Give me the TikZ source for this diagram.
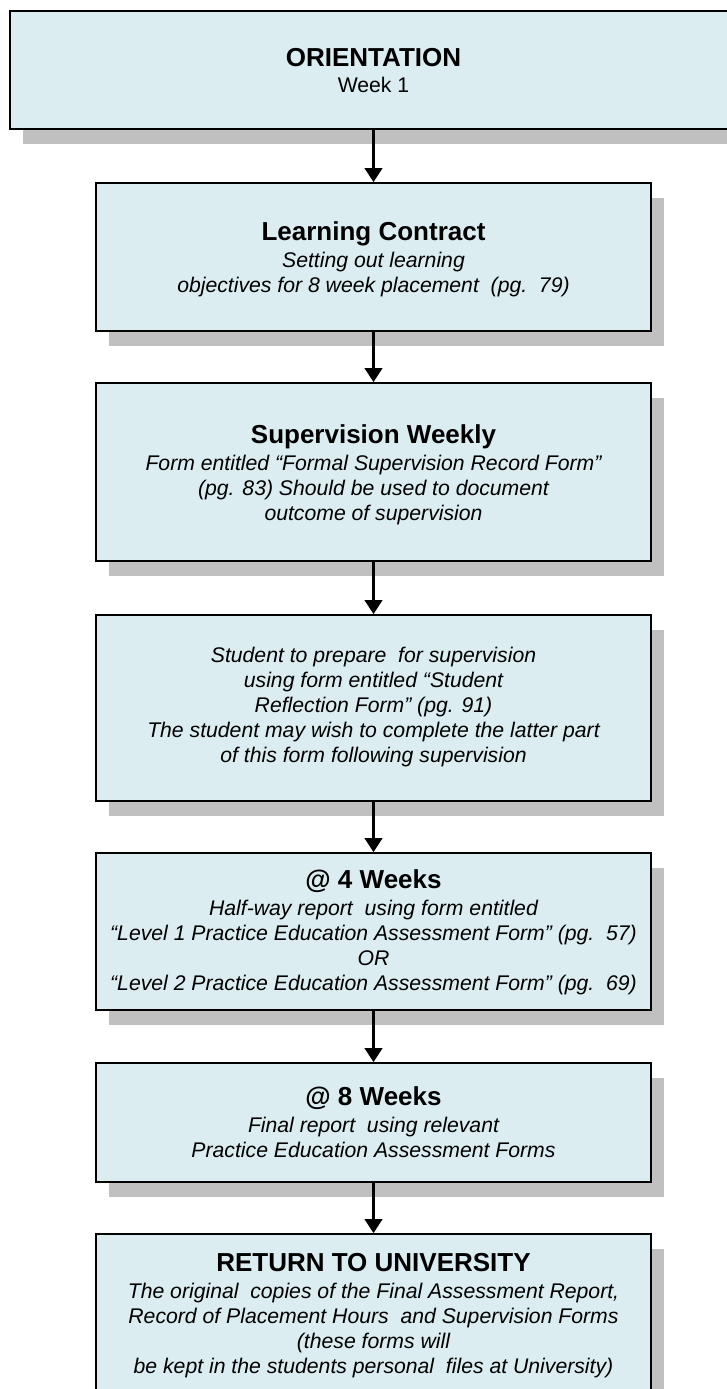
\documentclass[tikz,border=0pt]{standalone}
\usepackage{fontspec}
\setmainfont{Liberation Sans}
\usetikzlibrary{arrows.meta,shadows}
\definecolor{boxfill}{RGB}{219,237,240}
\definecolor{shadowgray}{RGB}{192,192,192}
\newcommand{\stagetitle}[1]{{\fontsize{26}{25}\selectfont\bfseries\upshape #1}}
\begin{document}
\begin{tikzpicture}[x=1pt,y=-1pt,
  stagebox/.style={draw=black, line width=1.6pt, fill=boxfill, inner sep=0pt,
    minimum width=555pt,
    drop shadow={shadow xshift=13pt, shadow yshift=-15pt, fill=shadowgray, opacity=1}},
  stagetext/.style={anchor=north, inner sep=0pt, align=center,
    font=\fontsize{21.2}{25}\selectfont\itshape},
  flowarrow/.style={line width=3.6pt, -{Triangle[width=17pt,length=14pt]}}]
\useasboundingbox (0,0) rectangle (726,1389);

% boxes
\node[stagebox, minimum width=727pt, minimum height=118pt] (o) at (373.5,70) {};
\node[stagebox, minimum height=148pt] (lc) at (373.5,257) {};
\node[stagebox, minimum height=178pt] (sw) at (373.5,472) {};
\node[stagebox, minimum height=186pt] (st) at (373.5,708) {};
\node[stagebox, minimum height=157pt] (w4) at (373.5,931.5) {};
\node[stagebox, minimum height=119pt] (w8) at (373.5,1122.5) {};
\node[stagebox, minimum height=166pt] (ru) at (373.5,1317) {};

% texts
\node[stagetext] (ot) at (373.5,47.8) {\stagetitle{ORIENTATION}\\[1pt]\upshape Week 1};
\node[stagetext] (lct) at (373.5,221) {\stagetitle{Learning Contract}\\[2pt]
  Setting out learning\\
  objectives for 8 week placement\ \ (pg.\ \ 79)};
\node[stagetext] (swt) at (373.5,424) {\stagetitle{Supervision Weekly}\\[2pt]
  Form entitled “Formal Supervision Record Form”\\
  (pg. 83) Should be used to document\\
  outcome of supervision};
\node[stagetext] (stt) at (373.5,647.3) {Student to prepare\ \ for supervision\\
  using form entitled “Student\\
  Reflection Form” (pg. 91)\\
  The student may wish to complete the latter part\\
  of this form following supervision};
\node[stagetext] (w4t) at (373.5,869) {\stagetitle{@ 4 Weeks}\\[2pt]
  Half-way report\ \ using form entitled\\
  “Level 1 Practice Education Assessment Form” (pg.\ \ 57)\\
  OR\\
  “Level 2 Practice Education Assessment Form” (pg.\ \ 69)};
\node[stagetext] (w8t) at (373.5,1086) {\stagetitle{@ 8 Weeks}\\[2pt]
  Final report\ \ using relevant\\
  Practice Education Assessment Forms};
\node[stagetext] (rut) at (373.5,1253) {\stagetitle{RETURN TO UNIVERSITY}\\[2pt]
  The original\ \ copies of the Final Assessment Report,\\
  Record of Placement Hours\ \ and Supervision Forms\\
  (these forms will\\
  be kept in the students personal\ \ files at University)};

% connectors
\draw[flowarrow] (o.south) -- (lc.north);
\draw[flowarrow] (lc.south) -- (sw.north);
\draw[flowarrow] (sw.south) -- (st.north);
\draw[flowarrow] (st.south) -- (w4.north);
\draw[flowarrow] (w4.south) -- (w8.north);
\draw[flowarrow] (w8.south) -- (ru.north);
\end{tikzpicture}
\end{document}
